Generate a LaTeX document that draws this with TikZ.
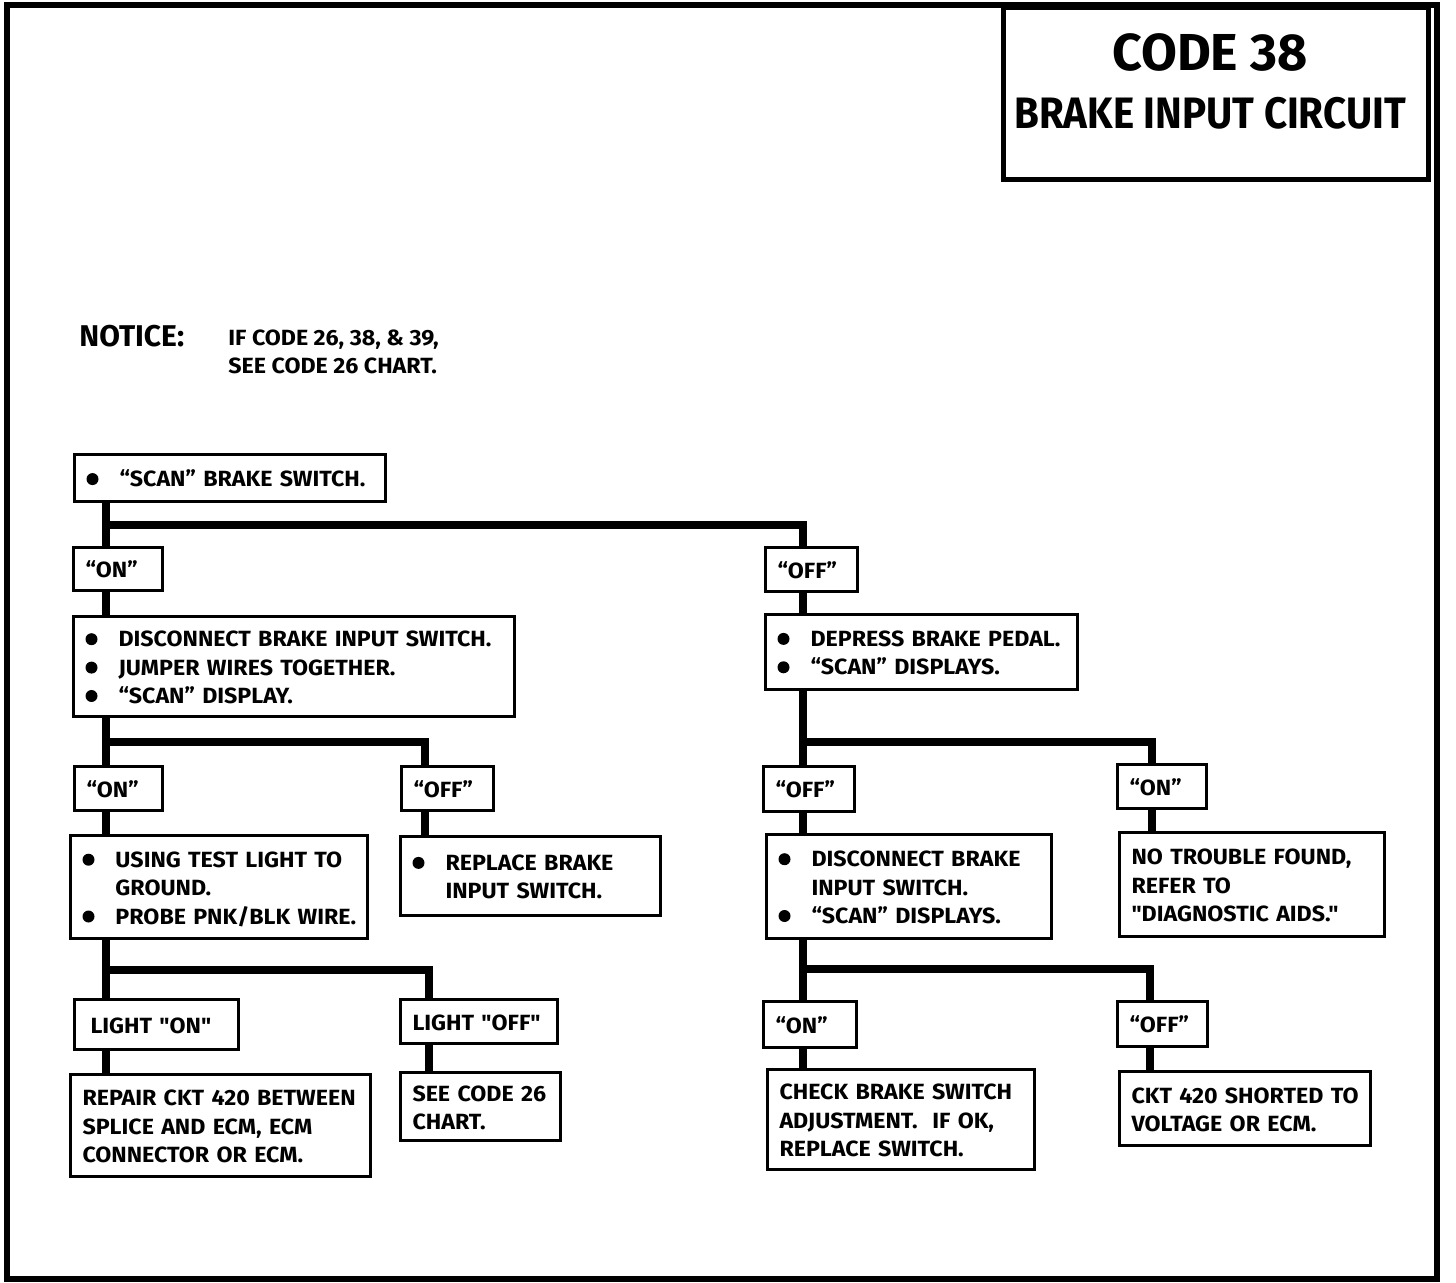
\documentclass[tikz,border=0pt]{standalone}
\usepackage{fontspec}
\setmainfont{Fira Sans}[UprightFont=* Bold,BoldFont=* Bold]
\newfontfamily\bodyfont{Fira Sans}[UprightFont=* Bold,BoldFont=* Bold,FakeStretch=1.055]
\begin{document}
\begin{tikzpicture}[x=0.5pt,y=-0.5pt,
  box/.style={draw,line width=1.5pt,anchor=north west,inner xsep=6pt,inner ysep=0pt,
    align=left,font=\bodyfont\fontsize{11}{14.2}\selectfont},
  bx/.style 2 args={text width={(#1-24)*0.5pt},minimum height={#2*0.5pt}},
  conn/.style={line width=4pt},
  lbl/.style={inner sep=0pt,anchor=base west}]
\newcommand\bul{\makebox[16.5pt][l]{\tikz[baseline=0pt]\fill (3pt,3.8pt) circle (3pt);}}
\newcommand\ind{\hspace*{16.5pt}}
\newcommand\tb[1]{\raisebox{-1.5pt}[\height][\depth]{\begin{tabular}{@{}l@{}}#1\end{tabular}}}
\useasboundingbox (0,0) rectangle (1456,1282);
% outer frame and title box
\draw[line width=3pt] (6.5,5) rectangle (1437,1279);
\node[draw,line width=2.5pt,anchor=north west,inner sep=0pt,minimum width={425*0.5pt},minimum height={172*0.5pt}] (tb) at (1001,5) {};
\node[anchor=base,inner sep=0pt,font=\fontsize{26}{30}\selectfont] (tt1) at (1210,70) {CODE 38};
\node[anchor=base,inner sep=0pt,font=\fontsize{22}{26}\selectfont] (tt2) at (1210,128) {\scalebox{0.915}[1]{BRAKE INPUT CIRCUIT}};
% notice
\node[lbl,font=\fontsize{15}{18}\selectfont] (nt) at (79,346) {NOTICE:};
\node[inner sep=0pt,anchor=north west,font=\bodyfont\fontsize{11}{14.2}\selectfont] (nt2) at (228,325) {\begin{tabular}{@{}l@{}}IF CODE 26, 38, \& 39,\\SEE CODE 26 CHART.\end{tabular}};
% left branch
\node[box,bx={311}{47}] (a) at (73,453) {\tb{\bul “SCAN” BRAKE SWITCH.}};
\node[box,bx={89}{43}] (on1) at (72,546) {\tb{“ON”}};
\node[box,bx={441}{100}] (b) at (72,615) {\tb{\bul DISCONNECT BRAKE INPUT SWITCH.\\\bul JUMPER WIRES TOGETHER.\\\bul “SCAN” DISPLAY.}};
\node[box,bx={88}{44}] (on2) at (73,765) {\tb{“ON”}};
\node[box,bx={92}{44}] (off2) at (400,765) {\tb{“OFF”}};
\node[box,bx={297}{103}] (c) at (69,834) {\tb{\bul USING TEST LIGHT TO\\\ind GROUND.\\\bul PROBE PNK/BLK WIRE.}};
\node[box,bx={260}{79}] (d) at (399,835) {\tb{\bul REPLACE BRAKE\\\ind INPUT SWITCH.}};
\node[box,bx={164}{50}] (lon) at (73,998) {\tb{\hspace*{2pt}LIGHT "ON"}};
\node[box,bx={157}{44}] (loff) at (399,998) {\tb{LIGHT "OFF"}};
\node[box,bx={300}{102}] (e) at (69,1073) {\tb{REPAIR CKT 420 BETWEEN\\SPLICE AND ECM, ECM\\CONNECTOR OR ECM.}};
\node[box,bx={160}{68}] (f) at (399,1071) {\tb{SEE CODE 26\\CHART.}};
% right branch
\node[box,bx={92}{44}] (off1) at (764,546) {\tb{“OFF”}};
\node[box,bx={312}{75}] (g) at (764,613) {\tb{\bul DEPRESS BRAKE PEDAL.\\\bul “SCAN” DISPLAYS.}};
\node[box,bx={91}{45}] (off3) at (762,765) {\tb{“OFF”}};
\node[box,bx={89}{44}] (on3) at (1116,763) {\tb{“ON”}};
\node[box,bx={285}{104}] (h) at (765,833) {\tb{\bul DISCONNECT BRAKE\\\ind INPUT SWITCH.\\\bul “SCAN” DISPLAYS.}};
\node[box,bx={265}{104}] (i) at (1118,831) {\tb{NO TROUBLE FOUND,\\REFER TO\\"DIAGNOSTIC AIDS."}};
\node[box,bx={93}{46}] (on4) at (762,1000) {\tb{“ON”}};
\node[box,bx={90}{45}] (off4) at (1116,1000) {\tb{“OFF”}};
\node[box,bx={267}{100}] (j) at (766,1068) {\tb{CHECK BRAKE SWITCH\\ADJUSTMENT.\ \ IF OK,\\REPLACE SWITCH.}};
\node[box,bx={251}{74}] (k) at (1118,1070) {\tb{CKT 420 SHORTED TO\\VOLTAGE OR ECM.}};
% connector coordinates
\coordinate (xL) at (106,0);
\coordinate (xR) at (803,0);
\coordinate (s1) at (106,525);
\coordinate (s2) at (106,742);
\coordinate (s3) at (106,970);
\coordinate (s4) at (803,742);
\coordinate (s5) at (803,969);
\coordinate (x2) at (425,0);
\coordinate (x3) at (429,0);
\coordinate (x4) at (1152,0);
\coordinate (x5) at (1150,0);
% connectors
\begin{scope}[conn]
\draw (a.south -| xL) -- (on1.north -| xL);
\draw (s1) -| (off1.north -| xR);
\draw (on1.south -| xL) -- (b.north -| xL);
\draw (off1.south -| xR) -- (g.north -| xR);
\draw (b.south -| xL) -- (on2.north -| xL);
\draw (s2) -| (off2.north -| x2);
\draw (on2.south -| xL) -- (c.north -| xL);
\draw (off2.south -| x2) -- (d.north -| x2);
\draw (c.south -| xL) -- (lon.north -| xL);
\draw (s3) -| (loff.north -| x3);
\draw (lon.south -| xL) -- (e.north -| xL);
\draw (loff.south -| x3) -- (f.north -| x3);
\draw (g.south -| xR) -- (off3.north -| xR);
\draw (s4) -| (on3.north -| x4);
\draw (off3.south -| xR) -- (h.north -| xR);
\draw (on3.south -| x4) -- (i.north -| x4);
\draw (h.south -| xR) -- (on4.north -| xR);
\draw (s5) -| (off4.north -| x5);
\draw (on4.south -| xR) -- (j.north -| xR);
\draw (off4.south -| x5) -- (k.north -| x5);
\end{scope}
\end{tikzpicture}
\end{document}
